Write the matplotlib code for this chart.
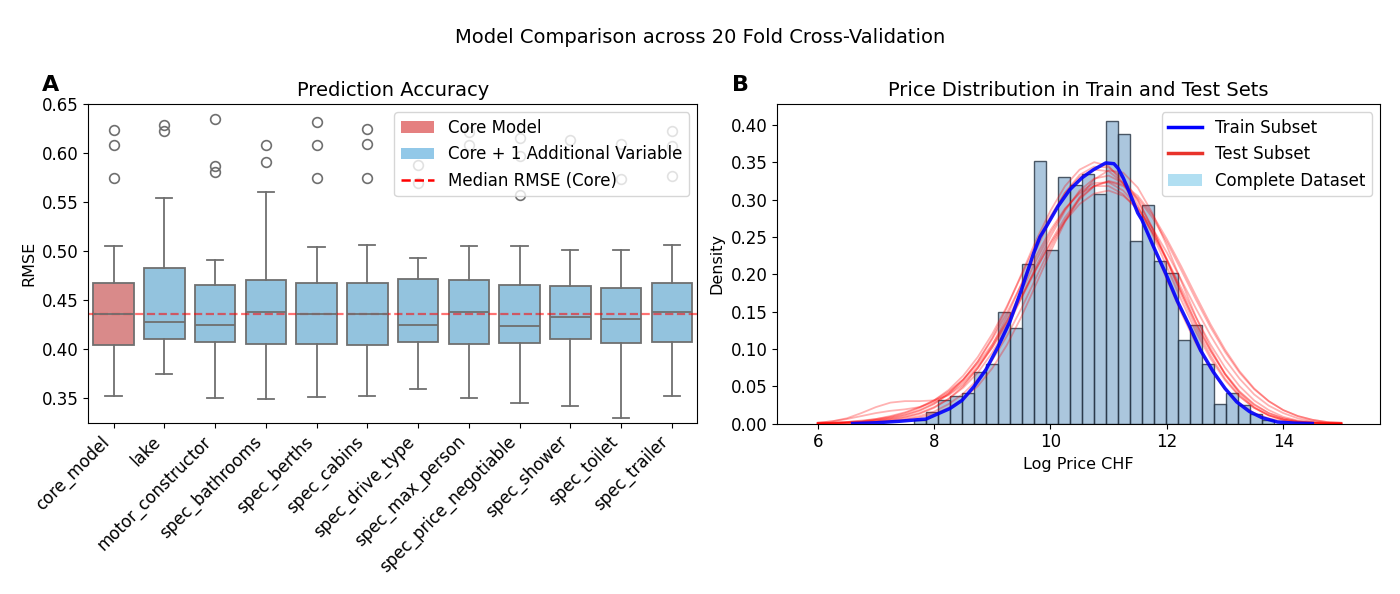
import numpy as np
import matplotlib.pyplot as plt
from matplotlib.patches import Patch
from matplotlib.lines import Line2D

# ---- panel A: RMSE per model (box summary) ----
models = ['core_model', 'lake', 'motor_constructor', 'spec_bathrooms', 'spec_berths',
          'spec_cabins', 'spec_drive_type', 'spec_max_person', 'spec_price_negotiable',
          'spec_shower', 'spec_toilet', 'spec_trailer']
whislo = [0.3525, 0.3746, 0.350, 0.349, 0.351, 0.3525, 0.360, 0.350, 0.3454, 0.3423, 0.330, 0.3525]
q1 = [0.4046, 0.4106, 0.407, 0.4056, 0.4056, 0.4042, 0.4077, 0.4056, 0.4063, 0.411, 0.4063, 0.4077]
med = [0.436, 0.4275, 0.425, 0.4384, 0.436, 0.436, 0.425, 0.4384, 0.424, 0.4327, 0.431, 0.4377]
q3 = [0.468, 0.483, 0.466, 0.4704, 0.468, 0.468, 0.4715, 0.4704, 0.466, 0.4644, 0.4627, 0.468]
whishi = [0.505, 0.5546, 0.4915, 0.560, 0.504, 0.5063, 0.493, 0.505, 0.505, 0.501, 0.501, 0.5063]
fliers = [[0.623, 0.608, 0.575], [0.629, 0.622], [0.635, 0.587, 0.581], [0.608, 0.591],
          [0.632, 0.608, 0.575], [0.624, 0.609, 0.575], [0.588, 0.569], [0.621, 0.608],
          [0.615, 0.597, 0.557], [0.613], [0.609, 0.574], [0.622, 0.607, 0.577]]
core_median = 0.436

# ---- panel B: histogram of complete dataset ----
bin_start = 7.653
bin_width = 0.206
hist_density = [0.005, 0.016, 0.032, 0.037, 0.041, 0.069, 0.080, 0.150, 0.128, 0.213,
                0.351, 0.233, 0.330, 0.320, 0.334, 0.307, 0.405, 0.388, 0.245, 0.293,
                0.218, 0.202, 0.112, 0.132, 0.080, 0.026, 0.041, 0.025, 0.013, 0.005]

# train KDE
train_x = [6.6, 7.0, 7.4, 7.86, 8.27, 8.48, 8.68, 8.89, 9.10, 9.30, 9.50, 9.71, 9.82, 9.93,
           10.13, 10.33, 10.54, 10.74, 10.95, 11.09, 11.16, 11.25, 11.36, 11.5, 11.57, 11.77,
           11.98, 12.18, 12.38, 12.58, 12.80, 13.0, 13.2, 13.42, 13.63, 13.9, 14.2, 14.5]
train_y = [0.0, 0.001, 0.003, 0.006, 0.020, 0.031, 0.049, 0.072, 0.103, 0.136, 0.179, 0.228,
           0.250, 0.264, 0.291, 0.313, 0.329, 0.340, 0.349, 0.348, 0.342, 0.329, 0.309, 0.282,
           0.273, 0.237, 0.201, 0.164, 0.132, 0.098, 0.069, 0.047, 0.029, 0.016, 0.008, 0.002,
           0.0005, 0.0]

# test KDEs (a selection of the fold curves), on a shared grid 6.00 .. 15.00 step 0.25
test_x = [6.00, 6.25, 6.50, 6.75, 7.00, 7.25, 7.50, 7.75, 8.00, 8.25, 8.50, 8.75, 9.00,
          9.25, 9.50, 9.75, 10.00, 10.25, 10.50, 10.75, 11.00, 11.25, 11.50, 11.75, 12.00,
          12.25, 12.50, 12.75, 13.00, 13.25, 13.50, 13.75, 14.00, 14.25, 14.50, 14.75, 15.00]
test_a = [0.000, 0.001, 0.001, 0.002, 0.004, 0.006, 0.009, 0.014, 0.022, 0.033, 0.048, 0.068, 0.095,
          0.128, 0.168, 0.210, 0.250, 0.285, 0.312, 0.328, 0.332, 0.322, 0.298, 0.262, 0.220,
          0.176, 0.134, 0.097, 0.066, 0.042, 0.025, 0.014, 0.007, 0.003, 0.001, 0.000, 0.000]
test_b = [0.001, 0.003, 0.007, 0.014, 0.022, 0.028, 0.030, 0.030, 0.031, 0.038, 0.052, 0.074, 0.102,
          0.137, 0.177, 0.218, 0.255, 0.287, 0.310, 0.322, 0.323, 0.312, 0.290, 0.257, 0.218,
          0.176, 0.135, 0.098, 0.067, 0.043, 0.026, 0.014, 0.007, 0.003, 0.001, 0.000, 0.000]
test_c = [0.000, 0.000, 0.001, 0.002, 0.004, 0.007, 0.011, 0.017, 0.026, 0.040, 0.058, 0.083, 0.115,
          0.155, 0.200, 0.245, 0.285, 0.318, 0.340, 0.350, 0.345, 0.322, 0.285, 0.240, 0.193,
          0.148, 0.107, 0.073, 0.046, 0.027, 0.014, 0.007, 0.003, 0.001, 0.000, 0.000, 0.000]
test_d = [0.000, 0.000, 0.000, 0.001, 0.002, 0.003, 0.005, 0.008, 0.013, 0.021, 0.033, 0.050, 0.074,
          0.105, 0.143, 0.186, 0.230, 0.270, 0.303, 0.327, 0.339, 0.336, 0.316, 0.282, 0.238,
          0.190, 0.143, 0.101, 0.066, 0.040, 0.022, 0.011, 0.005, 0.002, 0.001, 0.000, 0.000]
test_e = [0.000, 0.001, 0.002, 0.003, 0.005, 0.008, 0.012, 0.018, 0.027, 0.039, 0.055, 0.076, 0.102,
          0.133, 0.168, 0.206, 0.243, 0.276, 0.302, 0.318, 0.324, 0.318, 0.302, 0.276, 0.243,
          0.205, 0.166, 0.129, 0.096, 0.068, 0.046, 0.030, 0.018, 0.010, 0.005, 0.002, 0.001]
test_f = [0.001, 0.001, 0.002, 0.004, 0.006, 0.010, 0.015, 0.022, 0.031, 0.043, 0.059, 0.080, 0.106,
          0.137, 0.171, 0.207, 0.241, 0.271, 0.294, 0.308, 0.312, 0.305, 0.288, 0.262, 0.229,
          0.192, 0.154, 0.118, 0.086, 0.060, 0.039, 0.024, 0.014, 0.007, 0.003, 0.001, 0.000]
test_g = [0.000, 0.001, 0.002, 0.003, 0.006, 0.009, 0.014, 0.021, 0.031, 0.045, 0.064, 0.089, 0.120,
          0.157, 0.198, 0.240, 0.278, 0.309, 0.330, 0.340, 0.338, 0.322, 0.293, 0.254, 0.210,
          0.165, 0.123, 0.087, 0.058, 0.036, 0.021, 0.011, 0.005, 0.002, 0.001, 0.000, 0.000]
test_h = [0.000, 0.000, 0.001, 0.001, 0.002, 0.004, 0.006, 0.010, 0.016, 0.026, 0.040, 0.059, 0.085,
          0.117, 0.154, 0.195, 0.236, 0.272, 0.300, 0.318, 0.325, 0.320, 0.305, 0.280, 0.247,
          0.210, 0.171, 0.133, 0.099, 0.070, 0.047, 0.030, 0.018, 0.010, 0.005, 0.002, 0.001]
test_i = [0.000, 0.000, 0.001, 0.002, 0.003, 0.005, 0.008, 0.013, 0.021, 0.033, 0.050, 0.074, 0.105,
          0.143, 0.187, 0.232, 0.274, 0.309, 0.333, 0.344, 0.343, 0.328, 0.300, 0.262, 0.218,
          0.172, 0.129, 0.091, 0.060, 0.037, 0.021, 0.011, 0.005, 0.002, 0.001, 0.000, 0.000]
test_j = [0.001, 0.003, 0.006, 0.010, 0.014, 0.017, 0.019, 0.022, 0.029, 0.041, 0.059, 0.083, 0.113,
          0.148, 0.186, 0.224, 0.259, 0.288, 0.308, 0.318, 0.318, 0.307, 0.286, 0.256, 0.220,
          0.181, 0.142, 0.106, 0.075, 0.050, 0.031, 0.018, 0.009, 0.004, 0.002, 0.001, 0.000]
test_curves = [test_a, test_b, test_c, test_d, test_e, test_f, test_g, test_h, test_i, test_j]

fig = plt.figure(figsize=(14, 5.94), dpi=100)
ax1 = fig.add_axes([0.063, 0.288, 0.435, 0.537])
ax2 = fig.add_axes([0.555, 0.287, 0.431, 0.538])

# ---- panel A ----
red_box = '#d98a8a'
blue_box = '#93c3de'
line_col = '#6f6f6f'
stats = []
for i in range(len(models)):
    stats.append(dict(label=models[i], whislo=whislo[i], q1=q1[i], med=med[i],
                      q3=q3[i], whishi=whishi[i], fliers=fliers[i]))
bp = ax1.bxp(stats, positions=range(len(models)), widths=0.8, patch_artist=True,
             capwidths=0.32,
             boxprops=dict(edgecolor=line_col, linewidth=1.3),
             medianprops=dict(color=line_col, linewidth=1.3),
             whiskerprops=dict(color=line_col, linewidth=1.3),
             capprops=dict(color=line_col, linewidth=1.3),
             flierprops=dict(marker='o', markersize=7, markerfacecolor='none',
                             markeredgecolor=line_col, markeredgewidth=1.2))
for k, b in enumerate(bp['boxes']):
    b.set_facecolor(red_box if k == 0 else blue_box)

ax1.axhline(core_median, color='red', linestyle='--', linewidth=1.6, alpha=0.55)
ax1.set_xlim(-0.5, len(models) - 0.5)
ax1.set_ylim(0.325, 0.65)
ax1.set_yticks([0.35, 0.40, 0.45, 0.50, 0.55, 0.60, 0.65])
ax1.set_xticks(range(len(models)))
ax1.set_xticklabels(models, rotation=45, ha='right')
ax1.tick_params(labelsize=12)
ax1.set_ylabel('RMSE', fontsize=11.5)
ax1.set_title('Prediction Accuracy', fontsize=14)
leg1 = [Patch(facecolor='#e58080', label='Core Model'),
        Patch(facecolor='#92c8e8', label='Core + 1 Additional Variable'),
        Line2D([0], [0], color='red', linestyle='--', linewidth=1.8, label='Median RMSE (Core)')]
ax1.legend(handles=leg1, loc='upper right', fontsize=12)

# ---- panel B ----
edges = bin_start + bin_width * np.arange(len(hist_density) + 1)
ax2.bar(edges[:-1], hist_density, width=bin_width, align='edge',
        color=(0.275, 0.51, 0.706, 0.45), edgecolor=(0.15, 0.2, 0.26, 0.8), linewidth=1.0)
for curve in test_curves:
    ax2.plot(test_x, curve, color='red', alpha=0.3, linewidth=1.3)
ax2.plot(train_x, train_y, color='blue', linewidth=2.5, alpha=0.9)

ax2.set_xlim(5.3, 15.67)
ax2.set_ylim(0, 0.428)
ax2.set_xticks([6, 8, 10, 12, 14])
ax2.set_yticks(np.arange(0, 0.41, 0.05))
ax2.set_yticklabels([f'{v:.2f}' for v in np.arange(0, 0.41, 0.05)])
ax2.tick_params(labelsize=12)
ax2.set_xlabel('Log Price CHF', fontsize=11.5)
ax2.set_ylabel('Density', fontsize=11.5)
ax2.set_title('Price Distribution in Train and Test Sets', fontsize=14)
leg2 = [Line2D([0], [0], color='blue', linewidth=2.5, label='Train Subset'),
        Line2D([0], [0], color='#e8332b', linewidth=2.5, label='Test Subset'),
        Patch(facecolor='skyblue', alpha=0.65, label='Complete Dataset')]
ax2.legend(handles=leg2, loc='upper right', fontsize=12)

fig.text(0.03, 0.857, 'A', fontsize=16, fontweight='bold', va='center')
fig.text(0.523, 0.857, 'B', fontsize=16, fontweight='bold', va='center')
fig.suptitle('Model Comparison across 20 Fold Cross-Validation', fontsize=14, y=0.953)

fig.savefig('out.png', dpi=100)
